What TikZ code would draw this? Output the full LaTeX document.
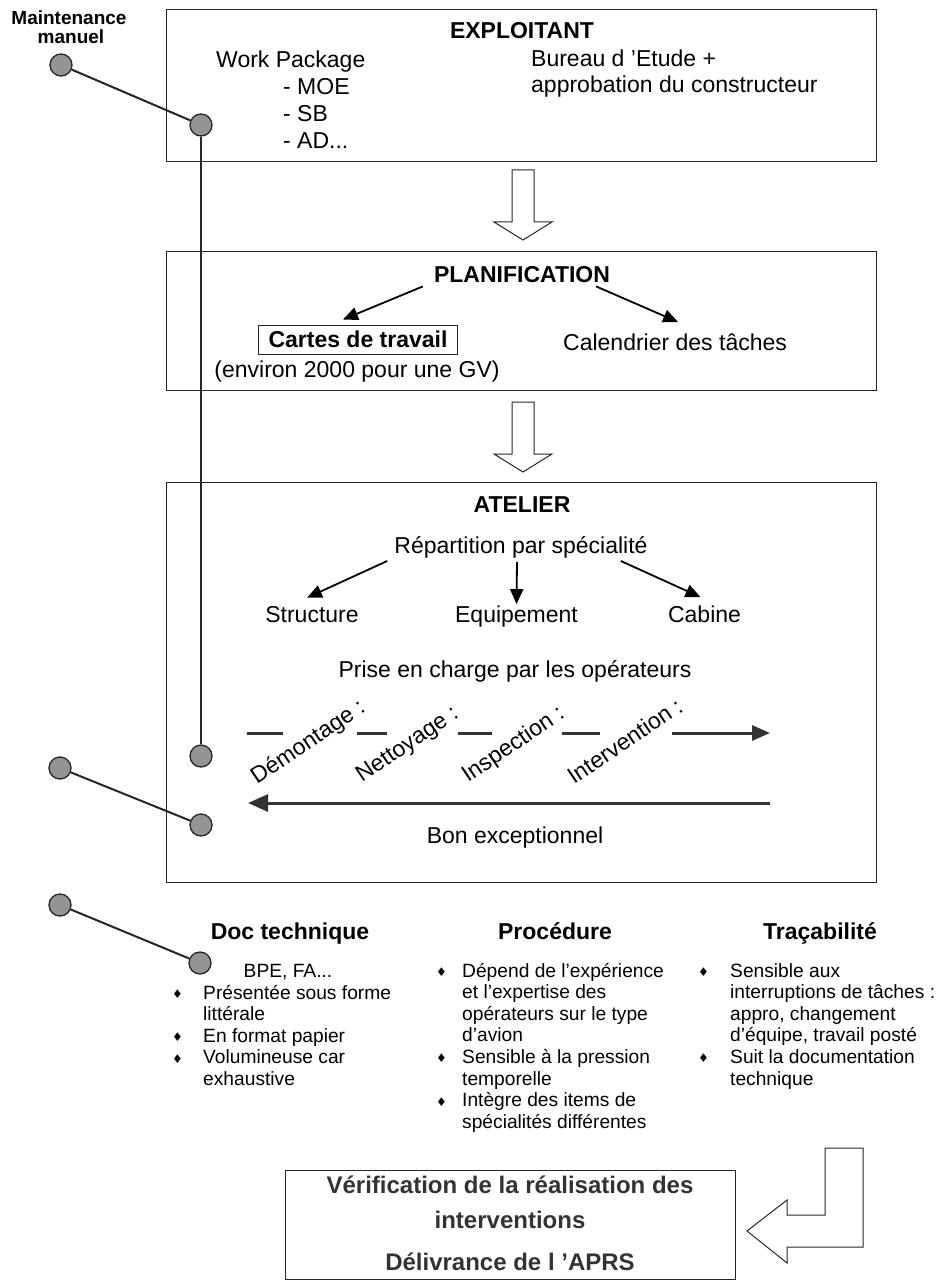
\documentclass[tikz,border=0pt]{standalone}
\usepackage{fontspec}
\setmainfont{Liberation Sans}
\newfontfamily\symb{DejaVu Sans}
\usetikzlibrary{arrows.meta,calc}
\def\taille#1{\fontsize{#1}{#1}\selectfont}
\newcommand{\puce}{\raisebox{0.5pt}{\symb\fontsize{12}{12}\selectfont ♦}}
\def\flechecreuse(#1,#2){\draw[creuse] (#1-11,#2) -- ++(22,0) -- ++(0,52) -- ++(18,0) -- ++(-29,18) -- ++(-29,-18) -- ++(18,0) -- cycle;}
\tikzset{
  boite/.style={draw=black!85, line width=1pt, inner sep=0pt},
  pastille/.style={circle, draw=black!85, fill=black!42, line width=1.3pt, minimum size=22pt, inner sep=0pt},
  liaison/.style={line width=2pt, black!85},
  fleche/.style={line width=1.8pt, -{Triangle[length=15pt,width=13pt]}},
  flux/.style={line width=3pt, black!80},
  creuse/.style={line width=1pt, draw=black!85, fill=white},
  texte/.style={font=\taille{23}, inner sep=0pt},
  titre/.style={font=\bfseries\taille{23}, inner sep=0pt},
  liste/.style={font=\fontsize{19.2}{21.6}\selectfont, inner sep=0pt, anchor=base west},
}

\begin{document}
\begin{tikzpicture}[x=1pt, y=-1pt]
		%%%%% START %%%%%
		\useasboundingbox (0,0) rectangle (937,1281);
		
		% les trois cadres
		\node[boite, minimum width=710pt, minimum height=152pt] (exploitant) at (521,86) {};
		\node[boite, minimum width=710pt, minimum height=139pt] (planification) at (521,320.5) {};
		\node[boite, minimum width=710pt, minimum height=400pt] (atelier) at (521,682) {};
		\node[boite, minimum width=450pt, minimum height=109pt] (verif) at (510,1224.5) {};
		
		\flechecreuse(523,170)
		\flechecreuse(523,402)
		\draw[creuse] (825,1148) -- (863,1148) -- (863,1247) -- (787,1247) -- (787,1263) -- (747,1231) -- (787,1200) -- (787,1215) -- (825,1215) -- cycle;
		
		% EXPLOITANT
		\node[titre, anchor=base] (t exploitant) at (522,39) {EXPLOITANT};
		\node[texte, anchor=base west] (wp) at (216,68) {Work Package};
		\node[texte, anchor=base west] (moe) at (283,95) {- MOE};
		\node[texte, anchor=base west] (sb) at (283,122) {- SB};
		\node[texte, anchor=base west] (ad) at (283,149) {- AD...};
		\node[texte, anchor=base west] (bureau) at (531,67) {Bureau d 'Etude +};
		\node[texte, anchor=base west] (appro) at (531,93) {approbation du constructeur};
		
		% PLANIFICATION
		\node[titre, anchor=base] (t planif) at (522,282) {PLANIFICATION};
		\node[boite, font=\bfseries\taille{23}, minimum width=199pt, minimum height=29pt] (cartes) at (358,339.5) {Cartes de travail};
		\node[texte, anchor=base] (environ) at (357,377) {(environ 2000 pour une GV)};
		\node[texte, anchor=base west] (calendrier) at (563,350) {Calendrier des tâches};
		\draw[fleche] ([xshift=-11pt,yshift=-4pt]t planif.south west) -- ([xshift=-15pt,yshift=5pt]cartes.north);
		\draw[fleche] ([xshift=-14pt,yshift=-4pt]t planif.south east) -- ([xshift=3pt,yshift=11pt]calendrier.north);
		
		% ATELIER
		\node[titre, anchor=base] (t atelier) at (522,512) {ATELIER};
		\node[texte, anchor=base] (repartition) at (521,553) {Répartition par spécialité};
		\node[texte, anchor=base] (structure) at (312,622) {Structure};
		\node[texte, anchor=base] (equipement) at (516.5,622) {Equipement};
		\node[texte, anchor=base] (cabine) at (704.5,622) {Cabine};
		\draw[fleche] ([xshift=-7pt,yshift=-3pt]repartition.south west) -- ([xshift=-5pt,yshift=8pt]structure.north);
		\draw[fleche] ([xshift=-4pt,yshift=-4pt]repartition.south) -- ([yshift=1pt]equipement.north);
		\draw[fleche] ([xshift=-27pt,yshift=-3pt]repartition.south east) -- ([xshift=-4pt,yshift=8pt]cabine.north);
		\node[texte, anchor=base] (prise) at (515,677) {Prise en charge par les opérateurs};
		
		\coordinate (flux fin) at (770,733);
		\foreach \a/\b in {247/283, 357/387, 458/492, 562/600}
			\draw[flux] (\a,733) -- (\b,733);
		\draw[flux, -{Triangle[length=18pt,width=15pt]}] (672,733) -- (flux fin);
		\node[texte, rotate=34, anchor=base west] (demontage) at (257,785) {Démontage :};
		\node[texte, rotate=34, anchor=base west] (nettoyage) at (362,783) {Nettoyage :};
		\node[texte, rotate=34, anchor=base west] (inspection) at (468,783) {Inspection :};
		\node[texte, rotate=34, anchor=base west] (intervention) at (574,785) {Intervention :};
		
		\coordinate (retour debut) at (770,803);
		\coordinate (retour fin) at (248,803);
		\draw[flux, -{Triangle[length=20pt,width=17pt]}] (retour debut) -- (retour fin);
		\node[texte, anchor=base] (bon) at (515,843) {Bon exceptionnel};
		
		% colonnes du bas
		\node[titre, anchor=base] (doc) at (290,939) {Doc technique};
		\node[titre, anchor=base] (procedure) at (555,939) {Procédure};
		\node[titre, anchor=base] (tracabilite) at (820,939) {Traçabilité};
		\node[liste, anchor=base] (bpe) at (288,977) {BPE, FA...};
		\node[liste] (liste doc) at (172,999) {\begin{tabular}[t]{@{}p{31pt}@{}l@{}}
			\puce & Présentée sous forme\\
			& littérale\\
			\puce & En format papier\\
			\puce & Volumineuse car\\
			& exhaustive
		\end{tabular}};
		\node[liste] (liste proc) at (436,977) {\begin{tabular}[t]{@{}p{26pt}@{}l@{}}
			\puce & Dépend de l'expérience\\
			& et l'expertise des\\
			& opérateurs sur le type\\
			& d'avion\\
			\puce & Sensible à la pression\\
			& temporelle\\
			\puce & Intègre des items de\\
			& spécialités différentes
		\end{tabular}};
		\node[liste] (liste trac) at (698,977) {\begin{tabular}[t]{@{}p{32pt}@{}l@{}}
			\puce & Sensible aux\\
			& interruptions de tâches :\\
			& appro, changement\\
			& d'équipe, travail posté\\
			\puce & Suit la documentation\\
			& technique
		\end{tabular}};
		
		% verification
		\node[titre, font=\bfseries\taille{24}, text=black!80, anchor=base] (verif1) at (510,1193) {Vérification de la réalisation des};
		\node[titre, font=\bfseries\taille{24}, text=black!80, anchor=base] (verif2) at (510,1228) {interventions};
		\node[titre, font=\bfseries\taille{24}, text=black!80, anchor=base] (aprs) at (510,1270) {Délivrance de l 'APRS};
		
		% maintenance manuel
		\node[font=\bfseries\taille{19}, inner sep=0pt, anchor=base] (mm1) at (69,25) {Maintenance};
		\node[font=\bfseries\taille{19}, inner sep=0pt, anchor=base] (mm2) at (71,44) {manuel};
		\node[pastille] (p1) at (61,65) {};
		\node[pastille] (p2) at (201,125) {};
		\node[pastille] (p3) at (201,756) {};
		\node[pastille] (p4) at (60,768) {};
		\node[pastille] (p5) at (201,825) {};
		\node[pastille] (p6) at (60,905) {};
		\node[pastille] (p7) at (200,963) {};
		\draw[liaison] (p1) -- (p2);
		\draw[liaison] (p2) -- (p3);
		\draw[liaison] (p4) -- (p5);
		\draw[liaison] (p6) -- (p7);
		%%%%% END %%%%%
	\end{tikzpicture}
\end{document}
